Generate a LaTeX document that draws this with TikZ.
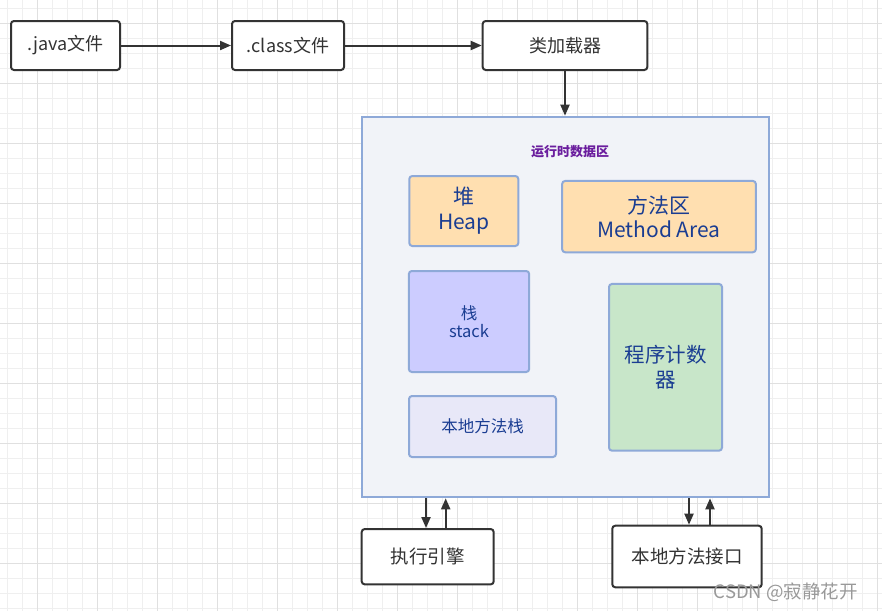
\documentclass[tikz,border=0pt]{standalone}
\usepackage{fontspec}
\setmainfont{Noto Sans CJK SC}
\usetikzlibrary{arrows.meta}
\definecolor{gridminor}{HTML}{EFEFEF}
\definecolor{gridmajor}{HTML}{E0E0E0}
\definecolor{darkline}{HTML}{333333}
\definecolor{blueborder}{HTML}{8EA9D8}
\definecolor{areafill}{HTML}{F1F3F8}
\definecolor{heapfill}{HTML}{FFDFB0}
\definecolor{stackfill}{HTML}{CCCCFF}
\definecolor{nativefill}{HTML}{E8E8F8}
\definecolor{pcfill}{HTML}{C8E6C9}
\definecolor{innertext}{HTML}{1A3D92}
\definecolor{titletext}{HTML}{6B1E9E}
\definecolor{wmark}{HTML}{999999}
\tikzset{
  blackbox/.style={draw=darkline, line width=2pt, rounded corners=3pt, fill=white,
    text=darkline, inner sep=0pt, align=center, font=\fontsize{18}{22}\selectfont},
  innerbox/.style={draw=blueborder, line width=2pt, rounded corners=3pt,
    text=innertext, inner sep=0pt, align=center},
  arr/.style={draw=darkline, line width=2pt, -{Triangle[length=11pt,width=9pt]}},
}
\begin{document}
\begin{tikzpicture}[x=1pt,y=-1pt]
\useasboundingbox (0,0) rectangle (882,611);
\fill[white] (0,0) rectangle (882,611);
% grid
\foreach \i in {0,...,59} {
  \pgfmathsetmacro{\gx}{7.3+15*\i}
  \draw[gridminor, line width=1.2pt] (\gx,0) -- (\gx,611);
}
\foreach \i in {0,...,41} {
  \pgfmathsetmacro{\gy}{8.3+15*\i}
  \draw[gridminor, line width=1.2pt] (0,\gy) -- (882,\gy);
}
\foreach \i in {0,...,14} {
  \pgfmathsetmacro{\gx}{37.3+60*\i}
  \draw[gridmajor, line width=1.2pt] (\gx,0) -- (\gx,611);
}
\foreach \i in {0,...,10} {
  \pgfmathsetmacro{\gy}{23.3+60*\i}
  \draw[gridmajor, line width=1.2pt] (0,\gy) -- (882,\gy);
}

% top row
\node[blackbox, minimum width=109pt, minimum height=49pt] (java) at (65.5,45.5) {.java文件};
\node[blackbox, minimum width=112pt, minimum height=49pt] (cls) at (288,45.5) {.class文件};
\node[blackbox, minimum width=164.6pt, minimum height=49pt] (loader) at (565,45.5) {类加载器};

% runtime area
\node[draw=blueborder, line width=2pt, fill=areafill, minimum width=407.6pt, minimum height=380.6pt, inner sep=0pt] (rt) at (565.5,307) {};
\node[text=titletext, font=\fontsize{13}{15}\selectfont\bfseries, inner sep=0pt] (title) at (570,152) {运行时数据区};

\node[innerbox, fill=heapfill, minimum width=109pt, minimum height=70pt,
  font=\fontsize{21}{25}\selectfont] (heap) at (463.8,211) {堆\\Heap};
\node[innerbox, fill=heapfill, minimum width=193.7pt, minimum height=71.3pt,
  font=\fontsize{21}{24}\selectfont] (method) at (659,216.6) {方法区\\Method Area};
\node[innerbox, fill=stackfill, minimum width=120.3pt, minimum height=101pt,
  font=\fontsize{16.5}{18.5}\selectfont] (stack) at (469,321.5) {栈\\stack};
\node[innerbox, fill=nativefill, minimum width=147pt, minimum height=61pt,
  font=\fontsize{16.5}{19}\selectfont] (nstack) at (482.5,426.5) {本地方法栈};
\node[innerbox, fill=pcfill, minimum width=113pt, minimum height=166.7pt,
  font=\fontsize{20.5}{25}\selectfont] (pc) at (665.5,367.3) {程序计数\\器};

% bottom row
\node[blackbox, minimum width=132pt, minimum height=55.3pt, font=\fontsize{18.5}{22}\selectfont] (ee) at (427.7,556.7) {执行引擎};
\node[blackbox, minimum width=149.4pt, minimum height=61.6pt, font=\fontsize{18.5}{22}\selectfont] (ni) at (687,556.5) {本地方法接口};

% connectors
\draw[arr] (java) -- (cls);
\draw[arr] (cls) -- (loader);
\draw[arr] (loader) -- (rt.north -| loader);
\draw[arr] ([xshift=-1.7pt]ee.north |- rt.south) -- ([xshift=-1.7pt]ee.north);
\draw[arr] ([xshift=18pt]ee.north) -- ([xshift=18pt]ee.north |- rt.south);
\draw[arr] ([xshift=2pt]ni.north |- rt.south) -- ([xshift=2pt]ni.north);
\draw[arr] ([xshift=23pt]ni.north) -- ([xshift=23pt]ni.north |- rt.south);

% watermark
\node[text=wmark, anchor=east, inner sep=0pt, font=\fontsize{18.5}{20}\selectfont] (wm) at (858,592) {CSDN @寂静花开};
\end{tikzpicture}
\end{document}
